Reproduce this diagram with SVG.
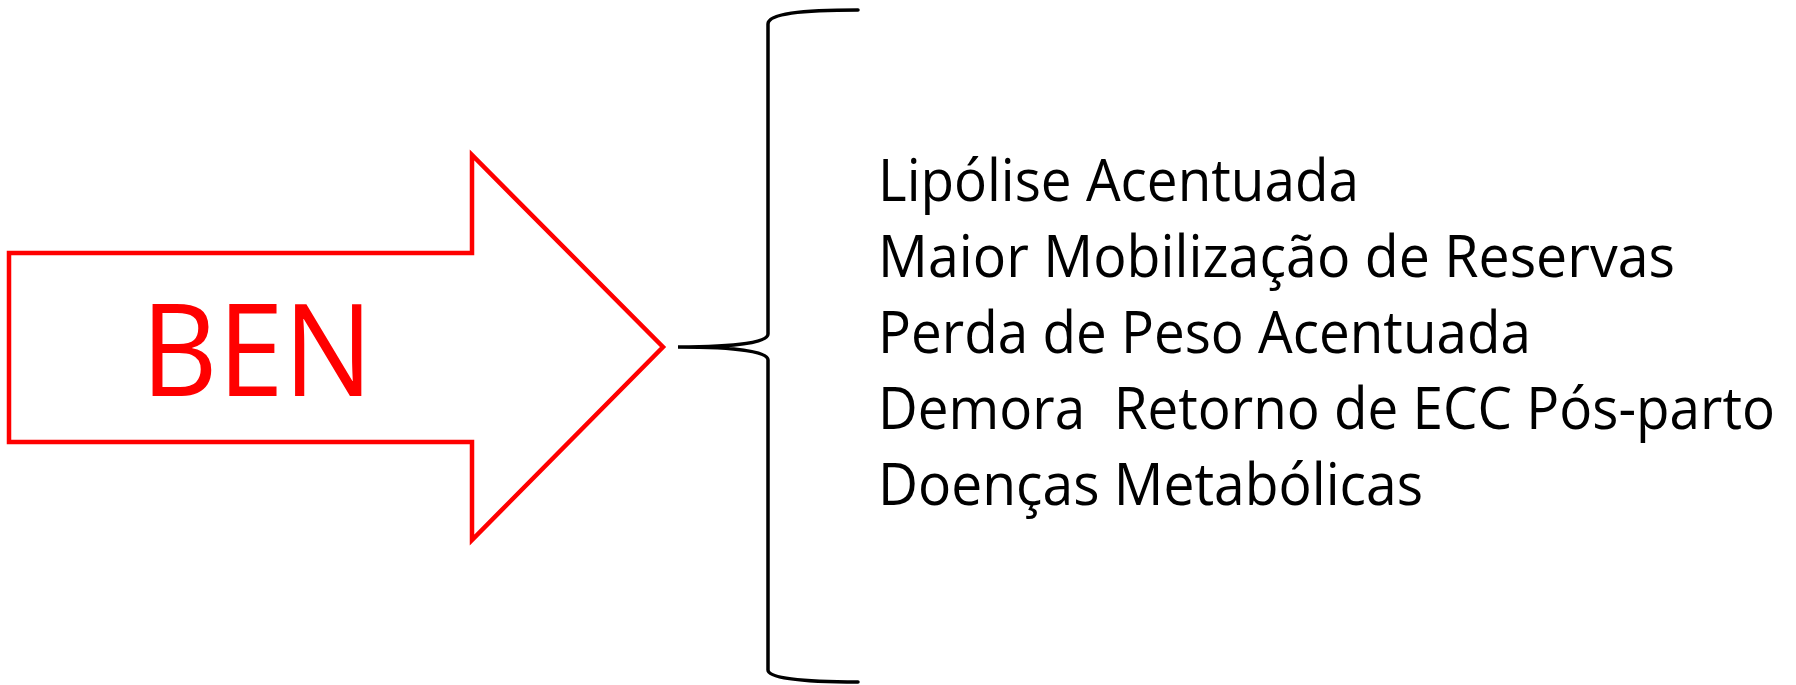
<svg xmlns="http://www.w3.org/2000/svg" width="1796" height="685" viewBox="0 0 1796 685">
<style>
.item{font-family:"Open Sans","Liberation Sans",sans-serif;font-size:59px;fill:#000}
.ben{font-family:"Open Sans","Liberation Sans",sans-serif;font-size:129px;fill:#ff0000}
</style>
<rect width="1796" height="685" fill="#fff"/>
<g id="ben-arrow">
<polygon points="9,253 472,253 472,155 663,347 472,540 472,442 9,442" fill="#fff" stroke="#ff0000" stroke-width="4.5"/>
<text class="ben" x="257" y="396" text-anchor="middle" textLength="232" lengthAdjust="spacingAndGlyphs">BEN</text>
</g>
<g id="connectors">
<path d="M858,10 C800,10 768,14 768,24 L768,334 C768,342 740,347 678,347 C740,347 768,352 768,360 L768,670 C768,678 800,682 858,682" fill="none" stroke="#000" stroke-width="3.5" stroke-linecap="round"/>
</g>
<g id="effects">
<text class="item" x="878" y="201" textLength="481" lengthAdjust="spacingAndGlyphs">Lipólise Acentuada</text>
<text class="item" x="878" y="277" textLength="797" lengthAdjust="spacingAndGlyphs">Maior Mobilização de Reservas</text>
<text class="item" x="878" y="353" textLength="653" lengthAdjust="spacingAndGlyphs">Perda de Peso Acentuada</text>
<text class="item" x="878" y="429" textLength="897" lengthAdjust="spacingAndGlyphs" xml:space="preserve">Demora  Retorno de ECC Pós-parto</text>
<text class="item" x="878" y="505" textLength="545" lengthAdjust="spacingAndGlyphs">Doenças Metabólicas</text>
</g>
</svg>
